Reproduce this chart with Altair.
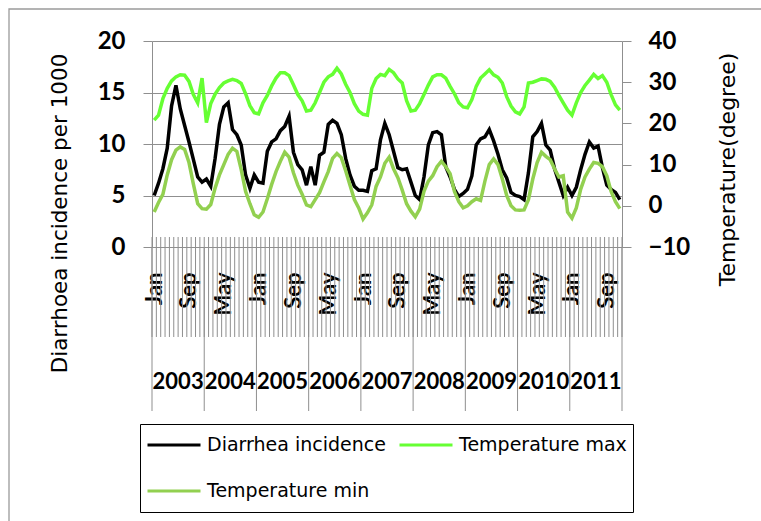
import json
import altair as alt
import pandas as pd

YEARS = [2003, 2004, 2005, 2006, 2007, 2008, 2009, 2010, 2011]
MONTHS = ["Jan", "Feb", "Mar", "Apr", "May", "Jun", "Jul", "Aug", "Sep", "Oct", "Nov", "Dec"]
SERIES = ["Diarrhea incidence", "Temperature max", "Temperature min"]
COLORS = ["#000000", "#66FF33", "#92D050"]

DIARRHEA = [
    5.0, 6.2, 7.6, 9.6, 13.7, 15.7, 13.4, 11.8, 10.2, 8.5, 6.8, 6.3,
    6.6, 5.9, 8.6, 11.9, 13.6, 14.0, 11.4, 10.9, 9.9, 7.0, 5.7, 7.0,
    6.3, 6.2, 9.3, 10.2, 10.5, 11.3, 11.7, 12.7, 9.2, 8.0, 7.5, 6.0,
    7.8, 6.0, 8.9, 9.2, 11.9, 12.3, 12.0, 10.9, 8.6, 7.0, 5.9, 5.5,
    5.5, 5.4, 7.4, 7.6, 10.4, 12.0, 10.9, 9.3, 7.7, 7.5, 7.6, 6.3,
    5.0, 4.6, 6.8, 9.9, 11.1, 11.2, 10.9, 7.8, 6.8, 5.6, 4.9, 5.2,
    5.6, 6.9, 9.9, 10.5, 10.7, 11.4, 10.3, 9.0, 7.5, 6.7, 5.3, 5.0,
    4.9, 4.6, 7.2, 10.7, 11.2, 12.0, 9.9, 9.4, 7.6, 6.3, 5.0, 5.8,
    5.0, 5.8, 7.5, 9.0, 10.2, 9.6, 9.8, 7.7, 6.0, 5.6, 5.3, 4.6,
]
TMAX = [
    20.8, 22.0, 26.0, 28.5, 30.3, 31.3, 31.8, 31.7, 30.2, 27.0, 25.0, 31.0,
    20.2, 24.8, 27.1, 28.7, 29.8, 30.3, 30.7, 30.4, 29.7, 27.2, 24.3, 22.6,
    22.3, 25.0, 26.8, 29.1, 31.0, 32.3, 32.3, 31.6, 29.4, 27.0, 25.5, 23.0,
    23.2, 25.0, 27.5, 30.0, 31.3, 31.9, 33.4, 32.0, 29.5, 27.5, 24.8, 23.0,
    22.2, 22.0, 28.5, 30.9, 31.9, 31.6, 33.1, 32.3, 30.8, 29.8, 25.5, 23.0,
    23.2, 24.8, 27.0, 29.3, 31.3, 31.8, 31.8, 31.0, 29.0, 27.2, 25.0, 24.0,
    23.8, 25.8, 29.0, 31.0, 32.0, 33.0, 31.8, 31.2, 29.8, 26.5, 24.2, 22.8,
    22.3, 24.0, 29.8, 30.0, 30.4, 30.8, 30.7, 30.2, 28.8, 26.8, 25.0, 23.2,
    22.0, 25.0, 27.5, 29.2, 30.5, 31.9, 30.9, 31.6, 30.0, 27.0, 24.5, 23.2,
]
TMIN = [
    -1.5, 0.8, 2.8, 7.5, 11.2, 13.5, 14.3, 13.7, 10.5, 5.3, 0.5, -0.7,
    -0.8, 0.3, 4.3, 7.5, 10.0, 12.5, 14.0, 13.2, 8.8, 3.5, 0.5, -2.2,
    -2.8, -1.5, 1.7, 5.2, 8.3, 10.8, 13.0, 11.8, 8.0, 5.0, 2.8, 0.2,
    -0.2, 1.5, 3.2, 5.8, 8.3, 11.5, 12.7, 11.7, 8.5, 5.0, 1.5, -0.5,
    -3.2, -1.7, 0.2, 4.7, 7.0, 10.3, 11.8, 9.0, 6.8, 3.8, 0.5, -1.3,
    -2.7, -0.8, 3.5, 6.0, 7.3, 9.5, 10.8, 9.5, 7.8, 3.5, 1.0, -0.5,
    0.0, 1.0, 1.7, 1.3, 6.0, 10.0, 11.4, 10.0, 6.5, 2.5, 0.0, -1.0,
    -1.1, -1.0, 1.5, 6.5, 10.5, 13.0, 12.0, 11.2, 9.0, 7.0, 7.3, -1.5,
    -3.0, -0.5, 4.0, 7.0, 8.9, 10.5, 10.3, 9.5, 7.3, 3.5, 1.0, -0.7,
]

N = len(DIARRHEA)
W, H = 470, 206
GRAY = "#8f8f8f"
FONT = "Lato"
TFONT = "DejaVu Sans"

rows = []
for i in range(N):
    for name, vals in zip(SERIES, [DIARRHEA, TMAX, TMIN]):
        rows.append({"pos": i + 0.5, "series": name, "value": vals[i]})
df = pd.DataFrame(rows)

ticks_df = pd.DataFrame({"pos": list(range(N + 1))})
year_ticks_df = pd.DataFrame({"pos": list(range(0, N + 1, 12))})
years_df = pd.DataFrame({"pos": [12 * j + 6 for j in range(len(YEARS))],
                         "year": [str(y) for y in YEARS]})
frame_df = pd.DataFrame({"a": [0]})

xscale = alt.Scale(domain=[0, N], nice=False, zero=False)
label_expr = json.dumps(MONTHS) + "[floor(datum.value) % 12]"
xaxis = alt.Axis(
    values=[i + 0.5 for i in range(0, N, 8)], labelExpr=label_expr,
    labelAngle=270, ticks=False, grid=False, domainColor=GRAY, domainWidth=1,
    labelPadding=25, labelFont=FONT, labelFontSize=22, labelFontWeight="bold",
    labelColor="black", labelOverlap=False, labelBound=False, labelFlush=False,
    title=None,
)
X = alt.X("pos:Q", scale=xscale, axis=xaxis)

color = alt.Color(
    "series:N",
    scale=alt.Scale(domain=SERIES, range=COLORS),
    legend=alt.Legend(
        orient="none", legendX=-12, legendY=383, columns=2, direction="horizontal",
        symbolType="stroke", symbolSize=2809, symbolStrokeWidth=3,
        clipHeight=30, rowPadding=16, columnPadding=12, padding=6,
        strokeColor="black", labelFont=TFONT, labelFontSize=19,
        labelColor="black", labelOffset=5, title=None, labelLimit=400,
    ),
)

frame = alt.Chart(frame_df).mark_rect(fillOpacity=0, stroke="#9a9a9a", strokeWidth=1.3).encode(
    x=alt.value(-143), x2=alt.value(760), y=alt.value(-32), y2=alt.value(700)
)

month_ticks = alt.Chart(ticks_df).mark_rule(color=GRAY, strokeWidth=1).encode(
    x=X, y=alt.value(H - 10), y2=alt.value(H + 90)
)
year_ticks = alt.Chart(year_ticks_df).mark_rule(color=GRAY, strokeWidth=1).encode(
    x=X, y=alt.value(H), y2=alt.value(H + 164)
)
year_text = alt.Chart(years_df).mark_text(
    font=FONT, fontSize=22, fontWeight="bold", color="black", baseline="middle", align="center"
).encode(x=X, y=alt.value(H + 135), text="year:N")

left = alt.Chart(df).transform_filter(alt.datum.series == SERIES[0]).mark_line(
    strokeWidth=3.5
).encode(
    x=X,
    y=alt.Y("value:Q", scale=alt.Scale(domain=[0, 20], nice=False),
            axis=alt.Axis(orient="left", values=[0, 5, 10, 15, 20], grid=True,
                          gridColor=GRAY, gridWidth=1, domainColor=GRAY, tickColor=GRAY,
                          tickSize=9, labelPadding=18, labelFont=FONT, labelFontSize=24,
                          labelFontWeight="bold", labelColor="black",
                          title="Diarrhoea incidence per 1000", titleFont=TFONT,
                          titleFontSize=21.5, titleFontWeight="normal", titleColor="black",
                          titleAngle=270, titleX=-92, titleY=172, titleAlign="center",
                          titleBaseline="middle")),
    color=color,
)

right = alt.Chart(df).transform_filter(alt.datum.series != SERIES[0]).mark_line(
    strokeWidth=3.5
).encode(
    x=X,
    y=alt.Y("value:Q", scale=alt.Scale(domain=[-10, 40], nice=False),
            axis=alt.Axis(orient="right", values=[-10, 0, 10, 20, 30, 40], grid=False,
                          domainColor=GRAY, tickColor=GRAY, tickSize=9, labelPadding=17,
                          labelFont=FONT, labelFontSize=24, labelFontWeight="bold",
                          labelColor="black", title="Temperature(degree)", titleFont=TFONT,
                          titleFontSize=22, titleFontWeight="normal", titleColor="black",
                          titleAngle=270, titleX=105, titleY=128, titleAlign="center",
                          titleBaseline="middle")),
    color=color,
)

chart = alt.layer(frame, month_ticks, year_ticks, year_text, left, right).resolve_scale(
    y="independent"
).properties(
    width=W, height=H,
    autosize=alt.AutoSizeParams(type="none"),
    padding={"left": 152, "top": 41, "right": 139, "bottom": 274},
    background="white",
).configure_view(stroke=None)

chart.save("out.html", embed_options={"renderer": "svg", "actions": False})
